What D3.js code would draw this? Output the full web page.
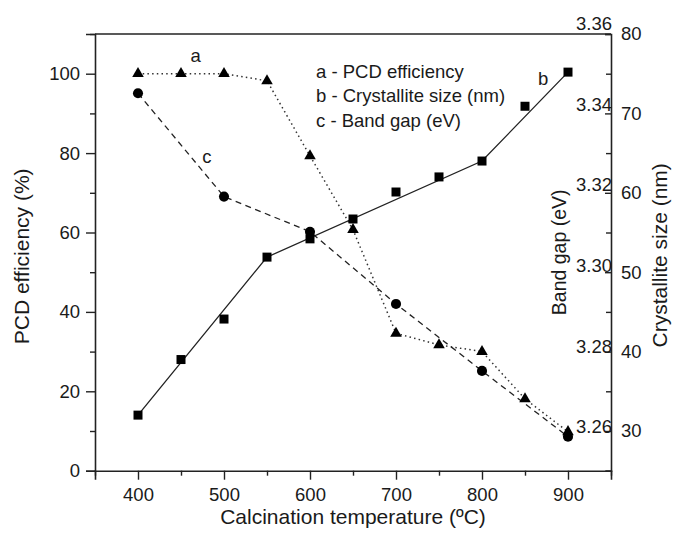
<!DOCTYPE html>
<html>
<head>
<meta charset="utf-8">
<script src="https://cdn.jsdelivr.net/npm/d3@7"></script>
<style>
  body { margin: 0; background: #fff; }
  text { font-family: "Liberation Sans", Arial, sans-serif; fill: #1a1a1a; }
</style>
</head>
<body>
<svg id="chart" width="676" height="534"></svg>
<script>
// ---- data ----
const temps = [400, 450, 500, 550, 600, 650, 700, 750, 800, 850, 900];
const pcdEfficiency = [100, 100, 100, 98.2, 79.3, 60.7, 34.6, 31.7, 30.0, 18.1, 9.8];
const crystalliteSize = [32.0, 39.0, 44.1, 51.9, 54.2, 56.7, 60.1, 62.0, 64.0, 70.9, 75.2];
const bandTemps = [400, 500, 600, 700, 800, 900];
const bandGap = [3.3427, 3.3171, 3.3084, 3.2905, 3.2739, 3.2576];
const fitTemps = [400, 550, 800, 900];
const crystFit = [32.0, 51.9, 64.0, 75.2];

const xTicks = [400, 500, 600, 700, 800, 900];
const xMinor = [350, 450, 550, 650, 750, 850, 950];
const yLeftTicks = [0, 20, 40, 60, 80, 100];
const yLeftMinor = [10, 30, 50, 70, 90, 110];
const crystTicks = [30, 40, 50, 60, 70, 80];
const crystMinor = [25, 35, 45, 55, 65, 75];
const bandTicks = [3.26, 3.28, 3.30, 3.32, 3.34, 3.36];
const legendItems = ["a - PCD efficiency", "b - Crystallite size (nm)", "c - Band gap (eV)"];
const curveLabels = [{t: "a", x: 467, y: 104.5}, {t: "c", x: 480, y: 79.2}, {t: "b", x: 871, y: 98.7}];

// ---- layout ----
const L = 95, R = 611, T = 34, B = 470.7;
const svg = d3.select("#chart");
const x = d3.scaleLinear().domain([350, 950]).range([L, R]);
const yL = d3.scaleLinear().domain([0, 110]).range([B, T]);
const yC = d3.scaleLinear().domain([25, 80]).range([B, T]);
const yB = d3.scaleLinear().domain([3.26, 3.36]).range([427, 23.5]);

const tickFont = "18.5px";
const titleFont = "21px";

// frame top line
svg.append("line").attr("x1", L).attr("x2", R).attr("y1", T).attr("y2", T)
  .attr("stroke", "#222").attr("stroke-width", 1.6);

// bottom axis
const gx = svg.append("g").attr("transform", `translate(0,${B})`)
  .call(d3.axisBottom(x).tickValues(xTicks).tickSize(9).tickPadding(8).tickFormat(d3.format("d")));
svg.append("g").attr("transform", `translate(0,${B})`)
  .call(d3.axisBottom(x).tickValues(xMinor).tickSize(5).tickFormat(""))
  .select(".domain").remove();

// left axis
const gy = svg.append("g").attr("transform", `translate(${L},0)`)
  .call(d3.axisLeft(yL).tickValues(yLeftTicks).tickSize(9).tickPadding(6).tickFormat(d3.format("d")));
svg.append("g").attr("transform", `translate(${L},0)`)
  .call(d3.axisLeft(yL).tickValues(yLeftMinor).tickSize(5).tickFormat(""))
  .select(".domain").remove();

// right axis (crystallite size), ticks inward
const gr = svg.append("g").attr("transform", `translate(${R},0)`)
  .call(d3.axisRight(yC).tickValues(crystTicks).tickSize(-6).tickPadding(10).tickFormat(d3.format("d")));
svg.append("g").attr("transform", `translate(${R},0)`)
  .call(d3.axisRight(yC).tickValues(crystMinor).tickSize(-5).tickFormat(""))
  .select(".domain").remove();

svg.selectAll(".domain").attr("stroke", "#222").attr("stroke-width", 1.6);
svg.selectAll(".tick line").attr("stroke", "#222").attr("stroke-width", 1.4);
svg.selectAll(".tick text").style("font-size", tickFont).style("font-family", "Liberation Sans, Arial, sans-serif").attr("fill", "#1a1a1a");

// band gap labels inside right axis
svg.append("g").selectAll("text").data(bandTicks).join("text")
  .attr("x", R + 1).attr("y", d => yB(d)).attr("dy", "0.35em")
  .attr("text-anchor", "end").style("font-size", tickFont)
  .text(d => d3.format(".2f")(d));

// axis titles
svg.append("text").attr("x", (L + R) / 2).attr("y", 524).attr("text-anchor", "middle")
  .style("font-size", titleFont).text("Calcination temperature (ºC)");
svg.append("text").attr("transform", `translate(29,${(T + B) / 2 + 4}) rotate(-90)`)
  .attr("text-anchor", "middle").style("font-size", titleFont).text("PCD efficiency (%)");
svg.append("text").attr("transform", `translate(566,${(T + B) / 2}) rotate(-90)`)
  .attr("text-anchor", "middle").style("font-size", "19.5px").text("Band gap (eV)");
svg.append("text").attr("transform", `translate(667,${(T + B) / 2 + 3}) rotate(-90)`)
  .attr("text-anchor", "middle").style("font-size", titleFont).text("Crystallite size (nm)");

// ---- series ----
const pcdData = temps.map((t, i) => [t, pcdEfficiency[i]]);
const crystData = temps.map((t, i) => [t, crystalliteSize[i]]);
const bandData = bandTemps.map((t, i) => [t, bandGap[i]]);
const fitData = fitTemps.map((t, i) => [t, crystFit[i]]);

// lines
svg.append("path").datum(fitData)
  .attr("d", d3.line().x(d => x(d[0])).y(d => yC(d[1])))
  .attr("fill", "none").attr("stroke", "#222").attr("stroke-width", 1.3);
svg.append("path").datum(pcdData)
  .attr("d", d3.line().x(d => x(d[0])).y(d => yL(d[1])))
  .attr("fill", "none").attr("stroke", "#333").attr("stroke-width", 1.5)
  .attr("stroke-dasharray", "1.5,3.2");
svg.append("path").datum(bandData)
  .attr("d", d3.line().x(d => x(d[0])).y(d => yB(d[1])))
  .attr("fill", "none").attr("stroke", "#222").attr("stroke-width", 1.3)
  .attr("stroke-dasharray", "6,4.5");

// markers
svg.append("g").selectAll("path").data(crystData).join("path")
  .attr("transform", d => `translate(${x(d[0])},${yC(d[1])})`)
  .attr("d", d3.symbol(d3.symbolSquare, 81)).attr("fill", "#000");
svg.append("g").selectAll("path").data(pcdData).join("path")
  .attr("transform", d => `translate(${x(d[0])},${yL(d[1])})`)
  .attr("d", d3.symbol(d3.symbolTriangle, 58)).attr("fill", "#000");
svg.append("g").selectAll("path").data(bandData).join("path")
  .attr("transform", d => `translate(${x(d[0])},${yB(d[1])})`)
  .attr("d", d3.symbol(d3.symbolCircle, 80)).attr("fill", "#000");

// curve labels
svg.append("g").selectAll("text").data(curveLabels).join("text")
  .attr("x", d => x(d.x)).attr("y", d => yL(d.y)).attr("dy", "0.35em")
  .attr("text-anchor", "middle").style("font-size", tickFont).text(d => d.t);

// legend
svg.append("g").selectAll("text").data(legendItems).join("text")
  .attr("x", 316).attr("y", (d, i) => 71.7 + i * 24.2).attr("dy", "0.35em")
  .style("font-size", tickFont).text(d => d);
</script>
</body>
</html>
